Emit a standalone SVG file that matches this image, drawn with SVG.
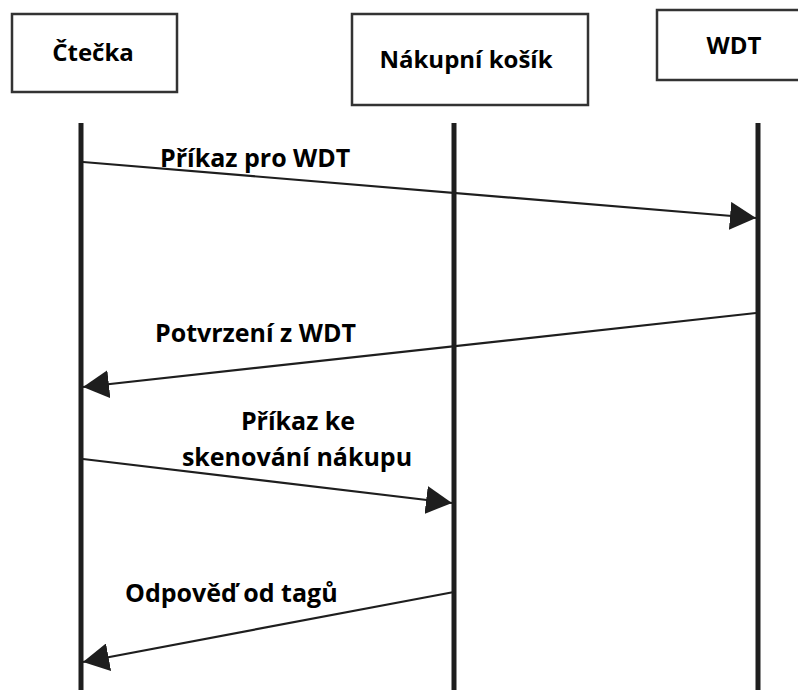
<svg xmlns="http://www.w3.org/2000/svg" width="798" height="690" viewBox="0 0 798 690">
<defs>
<style>
.box{fill:#fff;stroke:#333;stroke-width:2.5}
.life{stroke:#1e1e1e;stroke-width:5;fill:none}
.msg{stroke:#1e1e1e;stroke-width:2.2;fill:none}
.t{font-family:"Open Sans","Liberation Sans",sans-serif;font-weight:bold;font-size:24px;fill:#000}
.m{font-size:25px}
</style>
<marker id="ah" markerWidth="26" markerHeight="28" refX="26" refY="14" orient="auto" markerUnits="userSpaceOnUse">
<path d="M0,0 L26,14 L0,28 Z" fill="#1e1e1e"/>
</marker>
</defs>
<rect width="798" height="690" fill="#fff"/>
<g id="n-ctecka">
<rect class="box" x="12" y="14" width="165" height="78"/>
<text class="t" x="93" y="61" text-anchor="middle">Čtečka</text>
</g>
<g id="n-kosik">
<rect class="box" x="352" y="14" width="236" height="91"/>
<text class="t" x="466" y="68" text-anchor="middle">Nákupní košík</text>
</g>
<g id="n-wdt">
<rect class="box" x="657" y="10" width="150" height="70"/>
<text class="t" x="734" y="54" text-anchor="middle">WDT</text>
</g>
<g id="lifelines">
<line class="life" x1="81" y1="123" x2="81" y2="690"/>
<line class="life" x1="454" y1="123" x2="454" y2="690"/>
<line class="life" x1="758" y1="123" x2="758" y2="690"/>
</g>
<g id="connectors">
<line class="msg" x1="83" y1="162" x2="756" y2="218" marker-end="url(#ah)"/>
<line class="msg" x1="756" y1="313" x2="83" y2="387" marker-end="url(#ah)"/>
<line class="msg" x1="83" y1="459" x2="452" y2="503" marker-end="url(#ah)"/>
<line class="msg" x1="454" y1="592" x2="83" y2="662" marker-end="url(#ah)"/>
</g>
<g id="labels">
<text class="t m" x="160" y="167">Příkaz pro WDT</text>
<text class="t m" x="155" y="342">Potvrzení z WDT</text>
<text class="t m" x="298" y="430" text-anchor="middle">Příkaz ke</text>
<text class="t m" x="297" y="466" text-anchor="middle">skenování nákupu</text>
<text class="t m" x="125" y="602">Odpověď od tagů</text>
</g>
</svg>
